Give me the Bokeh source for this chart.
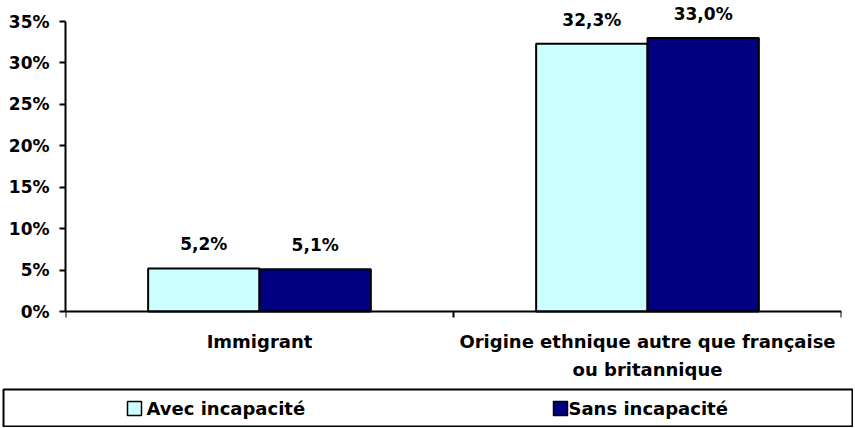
from bokeh.plotting import figure
from bokeh.models import ColumnDataSource, FixedTicker, Range1d, LabelSet, PrintfTickFormatter
from bokeh.transform import dodge
from bokeh.layouts import column
from bokeh.core.properties import value
from bokeh.embed import file_html
from bokeh.resources import INLINE

# ---- data ----
categories = ["Immigrant", "Origine ethnique autre que française\nou britannique"]
avec_incapacite = [5.2, 32.3]
sans_incapacite = [5.1, 33.0]
series_names = ["Avec incapacité", "Sans incapacité"]
series_colors = ["#CCFFFF", "#000080"]
y_ticks = [0, 5, 10, 15, 20, 25, 30, 35]
Y_MAX = 35

FONT = value("DejaVu Sans")
FS = "17px"

def fmt(v):
    return f"{v:.1f}".replace(".", ",") + "%"

centers = [i + 0.5 for i in range(len(categories))]
boundaries = [i for i in range(len(categories) + 1)]

src = ColumnDataSource(dict(
    x=centers,
    avec=avec_incapacite,
    sans=sans_incapacite,
    avec_lbl=[fmt(v) for v in avec_incapacite],
    sans_lbl=[fmt(v) for v in sans_incapacite],
))

# category label lines (one row per text line)
cat_x, cat_txt, cat_off = [], [], []
for c, name in zip(centers, categories):
    for k, line in enumerate(name.split("\n")):
        cat_x.append(c)
        cat_txt.append(line)
        cat_off.append(-36 - 28 * k)
cat_src = ColumnDataSource(dict(x=cat_x, y=[0] * len(cat_x), text=cat_txt, off=cat_off))

# layout (pixels): plot area from y=21 (35%) to y=311 (0%), frame extended for labels
FIG_H = 388
TOP, ZERO, AXTOP, BOTTOM = 4, 311, 21, 386
scale = (ZERO - AXTOP) / Y_MAX
y_end = Y_MAX + (AXTOP - TOP) / scale
y_start = -(BOTTOM - ZERO) / scale

p = figure(width=855, height=FIG_H, x_range=Range1d(0, len(categories)), y_range=Range1d(y_start, y_end),
           output_backend="svg", toolbar_location=None,
           min_border_left=65, min_border_right=14, min_border_top=TOP, min_border_bottom=FIG_H - BOTTOM)
p.frame_align = False
p.outline_line_color = None
p.grid.visible = False
p.background_fill_color = "white"
p.border_fill_color = "white"

BW = 0.287
OFF = 0.1435
p.vbar(x=dodge("x", -OFF), top="avec", width=BW, bottom=0, source=src,
       fill_color=series_colors[0], line_color="black", line_width=2)
p.vbar(x=dodge("x", OFF), top="sans", width=BW, bottom=0, source=src,
       fill_color=series_colors[1], line_color="black", line_width=2)

for xs, col in ((dodge("x", -OFF), "avec"), (dodge("x", OFF), "sans")):
    p.add_layout(LabelSet(x=xs, y=col, text=col + "_lbl", source=src,
                          text_align="center", text_baseline="alphabetic", y_offset=18,
                          text_font=FONT, text_font_style="bold", text_font_size=FS,
                          text_color="black"))

p.add_layout(LabelSet(x="x", y="y", text="text", y_offset="off", source=cat_src,
                      text_align="center", text_baseline="alphabetic",
                      text_font=FONT, text_font_style="bold", text_font_size="18px",
                      text_color="black"))

# x axis (at y = 0)
xa = p.xaxis[0]
xa.fixed_location = 0
xa.bounds = (0, len(categories))
xa.ticker = FixedTicker(ticks=centers, minor_ticks=boundaries)
xa.major_label_overrides = {c: "" for c in centers}
xa.major_tick_line_color = None
xa.major_tick_out = 0
xa.major_tick_in = 0
xa.minor_tick_out = 6
xa.minor_tick_in = 0
xa.minor_tick_line_color = "black"
xa.minor_tick_line_width = 2
xa.axis_line_width = 2
xa.axis_line_color = "black"
xa.major_label_text_font_size = "1px"

# y axis
ya = p.yaxis[0]
ya.bounds = (0, Y_MAX)
ya.ticker = FixedTicker(ticks=y_ticks)
ya.formatter = PrintfTickFormatter(format="%d%%")
ya.major_tick_out = 6
ya.major_tick_in = 0
ya.minor_tick_line_color = None
ya.major_tick_line_width = 2
ya.axis_line_width = 2
ya.axis_line_color = "black"
ya.major_label_standoff = 10
ya.major_label_text_font = "DejaVu Sans"
ya.major_label_text_font_style = "bold"
ya.major_label_text_font_size = FS
ya.major_label_text_color = "black"

# ---- legend box ----
lg = figure(width=851, height=39, x_range=Range1d(0, 849), y_range=Range1d(0, 37),
            output_backend="svg", toolbar_location=None, min_border=1,
            x_axis_type=None, y_axis_type=None, margin=(0, 0, 0, 2))
lg.frame_align = False
lg.grid.visible = False
lg.outline_line_color = "black"
lg.outline_line_width = 2
lg.rect(x=[131, 557], y=[18, 18], width=14, height=14, width_units="screen", height_units="screen",
        fill_color=series_colors, line_color="black", line_width=1.5)
lg.text(x=[143, 565], y=[18, 18], text=series_names, text_baseline="middle", text_align="left",
        text_font=FONT, text_font_style="bold", text_font_size="18px", text_color="black")

layout = column(p, lg, spacing=0)
open("out.html", "w").write(file_html(layout, INLINE))
